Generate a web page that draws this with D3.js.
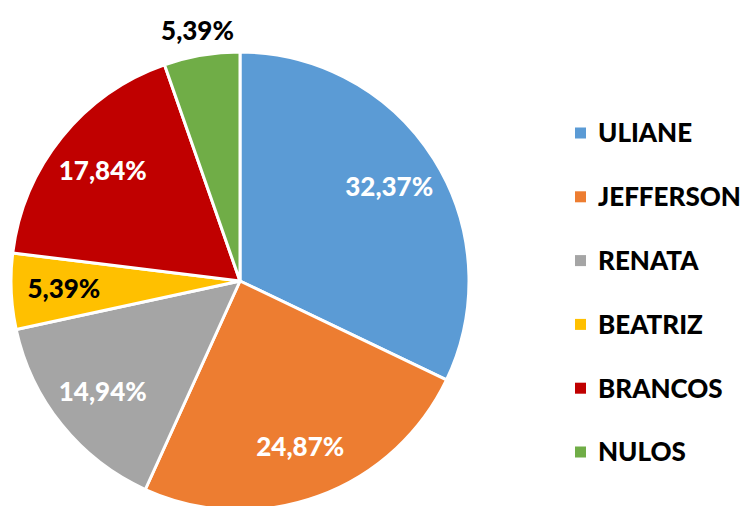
<!DOCTYPE html>
<html>
<head>
<meta charset="utf-8">
<script src="https://cdn.jsdelivr.net/npm/d3@7"></script>
<style>
  body { margin: 0; background: #fff; }
  text { font-family: Lato, "Liberation Sans", sans-serif; font-weight: 900; }
</style>
</head>
<body>
<div id="chart"></div>
<script>
// chart data
var names = ["ULIANE", "JEFFERSON", "RENATA", "BEATRIZ", "BRANCOS", "NULOS"];
var values = [32.37, 24.87, 14.94, 5.39, 17.84, 5.39];
var labels = ["32,37%", "24,87%", "14,94%", "5,39%", "17,84%", "5,39%"];
var colors = ["#5B9BD5", "#ED7D31", "#A5A5A5", "#FFC000", "#C00000", "#70AD47"];
var labelColors = ["#fff", "#fff", "#fff", "#000", "#fff", "#000"];
var outsideLabels = ["NULOS"];

var width = 747, height = 506;
var cx = 240, cy = 281, radius = 229;

var svg = d3.select("#chart").append("svg")
    .attr("width", width)
    .attr("height", height);

var rows = names.map(function(n, i) {
    return {name: n, value: values[i], label: labels[i], color: colors[i], textColor: labelColors[i]};
});

var pie = d3.pie().sort(null).value(function(d) { return d.value; });
var arc = d3.arc().innerRadius(0).outerRadius(radius);
var labelArc = d3.arc().innerRadius(radius * 0.77).outerRadius(radius * 0.77);
var outerArc = d3.arc().innerRadius(radius * 1.11).outerRadius(radius * 1.11);

var g = svg.append("g").attr("transform", "translate(" + cx + "," + cy + ")");

g.selectAll("path")
    .data(pie(rows))
    .enter()
    .append("path")
    .attr("d", arc)
    .attr("fill", function(d) { return d.data.color; })
    .attr("stroke", "#fff")
    .attr("stroke-width", 3)
    .attr("stroke-linejoin", "round");

g.selectAll("text.slice")
    .data(pie(rows))
    .enter()
    .append("text")
    .attr("class", "slice")
    .attr("transform", function(d) {
        var p = outsideLabels.indexOf(d.data.name) >= 0 ? outerArc.centroid(d) : labelArc.centroid(d);
        return "translate(" + p + ")";
    })
    .attr("text-anchor", "middle")
    .attr("dy", "0.36em")
    .attr("font-size", 26)
    .attr("fill", function(d) { return d.data.textColor; })
    .text(function(d) { return d.data.label; });

// legend
var legendY = d3.scalePoint().domain(names).range([133, 452]);

var legend = svg.append("g").selectAll("g")
    .data(rows)
    .enter()
    .append("g")
    .attr("transform", function(d) { return "translate(575," + legendY(d.name) + ")"; });

legend.append("rect")
    .attr("x", 0)
    .attr("y", -5.5)
    .attr("width", 11)
    .attr("height", 11)
    .attr("fill", function(d) { return d.color; });

legend.append("text")
    .attr("x", 23)
    .attr("dy", "0.36em")
    .attr("font-size", 26)
    .attr("fill", "#000")
    .text(function(d) { return d.name; });
</script>
</body>
</html>
